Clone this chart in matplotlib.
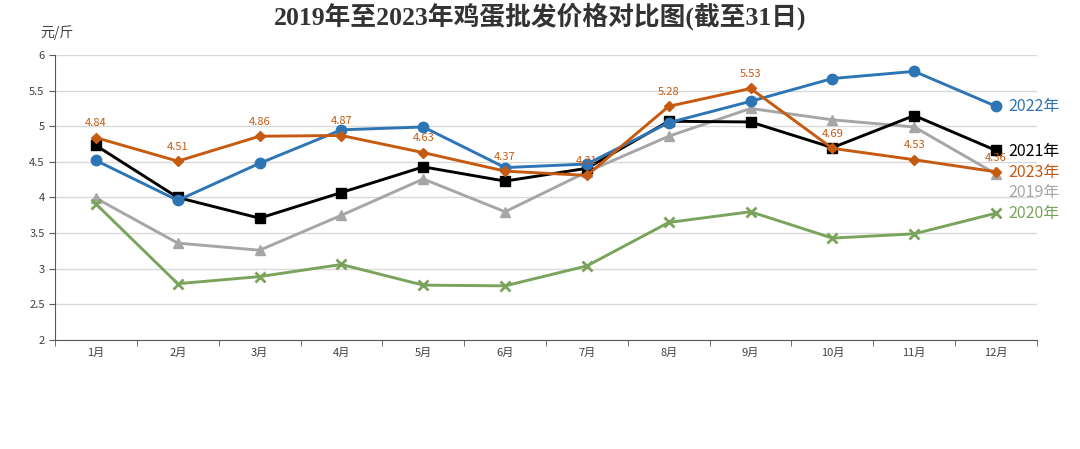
import numpy as np
import matplotlib.pyplot as plt
from matplotlib.ticker import FixedLocator

plt.rcParams['font.family'] = ['Noto Sans CJK SC', 'DejaVu Sans']

months = ['1月', '2月', '3月', '4月', '5月', '6月', '7月', '8月', '9月', '10月', '11月', '12月']
y2019 = [3.99, 3.36, 3.26, 3.75, 4.26, 3.80, 4.36, 4.86, 5.25, 5.09, 4.99, 4.33]
y2020 = [3.91, 2.79, 2.89, 3.06, 2.77, 2.76, 3.04, 3.65, 3.80, 3.43, 3.49, 3.78]
y2021 = [4.73, 4.00, 3.71, 4.07, 4.43, 4.23, 4.41, 5.07, 5.06, 4.70, 5.15, 4.66]
y2022 = [4.52, 3.96, 4.48, 4.95, 4.99, 4.42, 4.47, 5.05, 5.35, 5.67, 5.77, 5.28]
y2023 = [4.84, 4.51, 4.86, 4.87, 4.63, 4.37, 4.31, 5.28, 5.53, 4.69, 4.53, 4.36]

fig = plt.figure(figsize=(10.8, 4.49), dpi=100)
ax = fig.add_axes([55/1080, 109/449, (1037-55)/1080, (340-55)/449])
x = np.arange(len(months))

series = [
    ('2019年', y2019, '#A6A6A6', '^', 7),
    ('2020年', y2020, '#7AA45C', 'x', 7),
    ('2021年', y2021, '#000000', 's', 7),
    ('2022年', y2022, '#2E75B6', 'o', 7.5),
    ('2023年', y2023, '#C55A11', 'D', 5.5),
]
label_y = {'2022年': 5.28, '2021年': 4.65, '2023年': 4.35, '2019年': 4.07, '2020年': 3.77}
for i, (name, ys, col, mk, ms) in enumerate(series):
    ax.plot(x, ys, color=col, lw=2.1, marker=mk, ms=ms, mew=2 if mk == 'x' else 1,
            zorder=3 + i, clip_on=False)
    ax.text(11.15, label_y[name], name, color=col, fontsize=11.5, va='center', ha='left')

for xi, v in zip(x, y2023):
    ax.text(xi, v + 0.13, f'{v:.2f}', color='#C55A11', fontsize=8, ha='center', va='bottom', zorder=10)

ax.set_xlim(-0.5, 11.5)
ax.set_ylim(2, 6)
ax.set_yticks(np.arange(2, 6.01, 0.5))
ax.set_yticklabels(['2', '2.5', '3', '3.5', '4', '4.5', '5', '5.5', '6'])
ax.set_xticks(x)
ax.set_xticklabels(months)
ax.xaxis.set_minor_locator(FixedLocator(np.arange(-0.5, 12, 1)))
ax.tick_params(axis='x', which='major', length=0, labelsize=8, colors='#404040', pad=6)
ax.tick_params(axis='x', which='minor', length=4, color='#595959')
ax.tick_params(axis='y', length=4, labelsize=8, colors='#404040', color='#595959')
ax.grid(axis='y', color='#D9D9D9', lw=1)
ax.set_axisbelow(True)
for s in ['top', 'right']:
    ax.spines[s].set_visible(False)
for s in ['left', 'bottom']:
    ax.spines[s].set_color('#595959')

fig.text(40/1080, 1 - 33/449, '元/斤', fontsize=10, color='#404040', va='center', ha='left')
fig.text(540/1080, 1 - 16/449, '2019年至2023年鸡蛋批发价格对比图(截至31日)',
         fontsize=18.5, fontweight='bold', color='#333333', ha='center', va='center',
         family=['Liberation Serif', 'Noto Sans CJK SC'])

fig.savefig('out.png', dpi=100)
